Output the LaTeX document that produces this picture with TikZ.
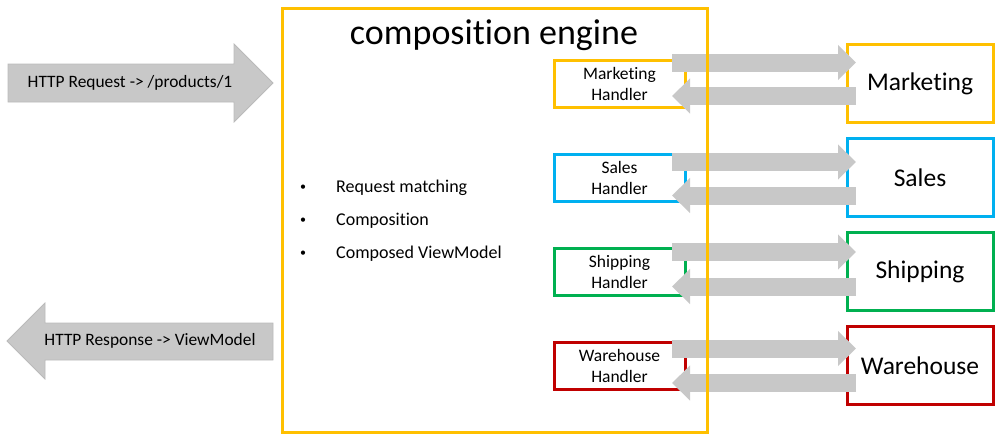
\documentclass[tikz,border=0pt]{standalone}
\usepackage{fontspec}
\setmainfont[Ligatures=NoCommon]{Carlito}
\usetikzlibrary{arrows.meta,positioning}
\definecolor{engyellow}{RGB}{255,192,0}
\definecolor{salesblue}{RGB}{0,176,240}
\definecolor{shipgreen}{RGB}{0,176,80}
\definecolor{warered}{RGB}{192,0,0}
\definecolor{arrowgray}{RGB}{200,200,200}
\definecolor{arrowline}{RGB}{186,186,186}

\begin{document}
\begin{tikzpicture}[x=1pt,y=-1pt,
  handler/.style={draw, line width=3pt, outer sep=0pt, inner sep=0pt,
    minimum width=131pt, minimum height=47pt, align=center,
    font=\fontsize{17.5}{21}\selectfont},
  service/.style={draw, line width=3pt, outer sep=0pt,
    minimum width=146pt, minimum height=78pt,
    font=\fontsize{25.5}{30}\selectfont},
  fatarrow/.style={arrowgray, line width=18pt,
    -{Triangle[length=18pt,width=34pt]}},
  bigarrow/.style={fill=arrowgray, draw=arrowline, line width=0.8pt},
  arrowtext/.style={inner sep=0pt, font=\fontsize{17.4}{21}\selectfont},
  itemtext/.style={inner sep=0pt, anchor=west, font=\fontsize{18}{22}\selectfont},
  bulletdot/.style={inner sep=0pt, font=\fontsize{12}{14}\selectfont}]
  \useasboundingbox (0,0) rectangle (1000,442);

  % request / response
  \filldraw[bigarrow] (8,64) -- (234,64) -- (234,44) -- (273,83)
    -- (234,122) -- (234,102) -- (8,102) -- cycle;
  \node[arrowtext] (req) at (130,83) {HTTP Request -> /products/1};
  \filldraw[bigarrow] (273,323) -- (45,323) -- (45,303) -- (7,341)
    -- (45,379) -- (45,360) -- (273,360) -- cycle;
  \node[arrowtext] (resp) at (150,341) {HTTP Response -> ViewModel};

  % handlers
  \node[handler, draw=engyellow] (mh) at (619.5,83.5) {Marketing\\Handler};
  \node[handler, draw=salesblue, below=47pt of mh] (sh) {Sales\\Handler};
  \node[handler, draw=shipgreen, below=47pt of sh] (ph) {Shipping\\Handler};
  \node[handler, draw=warered, below=47pt of ph] (wh) {Warehouse\\Handler};

  % services
  \node[service, draw=engyellow, right=162pt of mh] (mk) {Marketing};
  \node[service, draw=salesblue, right=162pt of sh] (sa) {Sales};
  \node[service, draw=shipgreen, right=162pt of ph] (sp) {Shipping};
  \node[service, draw=warered, right=162pt of wh] (wa) {Warehouse};

  % calls
  \draw[fatarrow] ([xshift=-13pt,yshift=21pt]mh.east) -- ([xshift=9pt,yshift=21pt]mk.west);
  \draw[fatarrow] ([xshift=9pt,yshift=-12.5pt]mk.west) -- ([xshift=-13pt,yshift=-12.5pt]mh.east);
  \draw[fatarrow] ([xshift=-13pt,yshift=15.5pt]sh.east) -- ([xshift=9pt,yshift=15.5pt]sa.west);
  \draw[fatarrow] ([xshift=9pt,yshift=-18pt]sa.west) -- ([xshift=-13pt,yshift=-18pt]sh.east);
  \draw[fatarrow] ([xshift=-13pt,yshift=19.5pt]ph.east) -- ([xshift=9pt,yshift=19.5pt]sp.west);
  \draw[fatarrow] ([xshift=9pt,yshift=-15pt]sp.west) -- ([xshift=-13pt,yshift=-15pt]ph.east);
  \draw[fatarrow] ([xshift=-13pt,yshift=17pt]wh.east) -- ([xshift=9pt,yshift=17pt]wa.west);
  \draw[fatarrow] ([xshift=9pt,yshift=-17.5pt]wa.west) -- ([xshift=-13pt,yshift=-17.5pt]wh.east);

  % engine
  \node[draw=engyellow, line width=3pt, minimum width=425pt, minimum height=424pt]
    (engine) at (494.5,220) {};
  \node[font=\fontsize{36}{43}\selectfont] (title) at (494,35) {composition engine};
  \node[bulletdot] (b1) at (303,188) {\textbullet};
  \node[itemtext] (i1) at (336,188) {Request matching};
  \node[bulletdot] (b2) at (303,221) {\textbullet};
  \node[itemtext] (i2) at (336,221) {Composition};
  \node[bulletdot] (b3) at (303,254) {\textbullet};
  \node[itemtext] (i3) at (336,254) {Composed ViewModel};
\end{tikzpicture}
\end{document}
